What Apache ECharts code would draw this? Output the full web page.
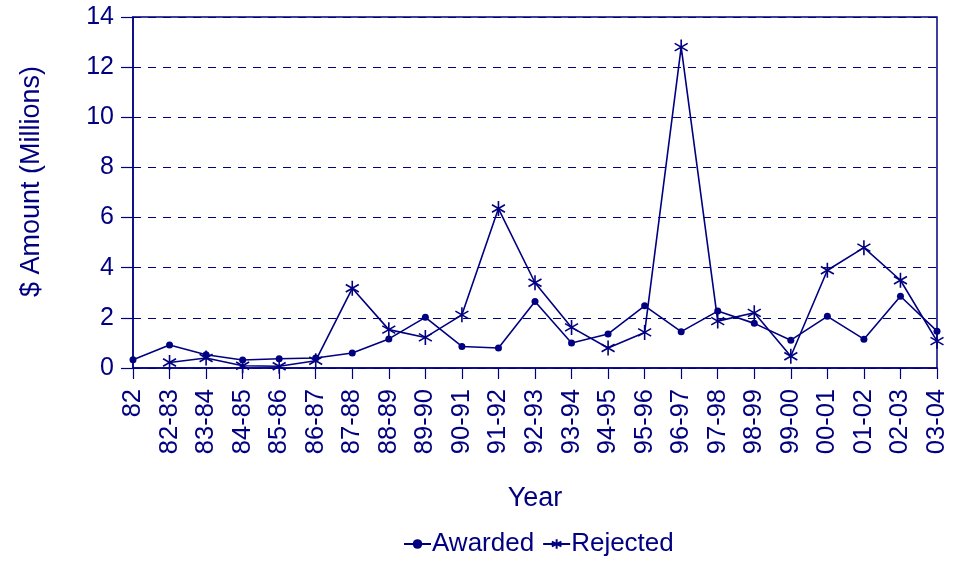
<!DOCTYPE html>
<html>
<head>
<meta charset="utf-8">
<script src="https://cdn.jsdelivr.net/npm/echarts@6/dist/echarts.min.js"></script>
<style>
html,body{margin:0;padding:0;background:#fff;}
#c{width:953px;height:561px;}
</style>
</head>
<body>
<div id="c"></div>
<script>
const years = ['82','82-83','83-84','84-85','85-86','86-87','87-88','88-89','89-90','90-91','91-92','92-93','93-94','94-95','95-96','96-97','97-98','98-99','99-00','00-01','01-02','02-03','03-04'];
const awarded = [0.33,0.92,0.53,0.32,0.37,0.40,0.60,1.16,2.02,0.86,0.80,2.65,1.00,1.36,2.48,1.45,2.27,1.78,1.11,2.06,1.15,2.86,1.47];
const rejected = [null,0.22,0.40,0.09,0.07,0.29,3.18,1.53,1.22,2.12,6.36,3.40,1.62,0.80,1.42,12.8,1.87,2.20,0.47,3.90,4.80,3.50,1.07];
const yTicks = {min:0, max:14, interval:2};

const NAVY = '#000080';
const FONT = '"Liberation Sans", Arial, sans-serif';
const STAR = 'path://M10,0L10,20M1.34,5L18.66,15M1.34,15L18.66,5';

const chart = echarts.init(document.getElementById('c'));
chart.setOption({
  animation: false,
  textStyle: {fontFamily: FONT, color: NAVY},
  grid: {left:133, right:16, top:17, bottom:193, show:true, borderColor:NAVY, borderWidth:1.5, backgroundColor:'transparent'},
  legend: {
    left: 398, top: 526,
    itemWidth: 27, itemHeight: 12, itemGap: 8,
    textStyle: {fontFamily: FONT, fontSize: 26, color: NAVY, padding:[0,0,0,-4]},
    data: ['Awarded','Rejected']
  },
  xAxis: {
    type: 'category', data: years, boundaryGap: false,
    name: 'Year', nameLocation: 'middle', nameGap: 117,
    nameTextStyle: {fontFamily: FONT, fontSize: 27, color: NAVY},
    axisLine: {lineStyle: {color: NAVY, width: 1.5}},
    axisTick: {show:true, alignWithLabel:true, length: 11, lineStyle:{color: NAVY, width:1.2}},
    axisLabel: {rotate: 90, margin: 21, fontFamily: FONT, fontSize: 25.5, color: NAVY, interval: 0},
    splitLine: {show:false}
  },
  yAxis: {
    type: 'value', min: yTicks.min, max: yTicks.max, interval: yTicks.interval,
    name: '$ Amount (Millions)', nameLocation: 'middle', nameGap: 88,
    nameTextStyle: {fontFamily: FONT, fontSize: 27, color: NAVY, padding: [0,0,0,22]},
    axisLine: {show:true, lineStyle: {color: NAVY, width: 1.5}},
    axisTick: {show:true, length: 12, lineStyle:{color: NAVY, width:1.2}},
    axisLabel: {margin: 19, fontFamily: FONT, fontSize: 25, color: NAVY},
    splitLine: {show:true, lineStyle: {color: NAVY, type: [8,7], width: 1.2}}
  },
  series: [
    {
      name: 'Awarded', type: 'line', data: awarded,
      symbol: 'circle', symbolSize: 7,
      lineStyle: {color: NAVY, width: 1.6},
      itemStyle: {color: NAVY},
      connectNulls: false
    },
    {
      name: 'Rejected', type: 'line', data: rejected,
      symbol: STAR, symbolSize: 15, symbolKeepAspect: true,
      lineStyle: {color: NAVY, width: 1.6},
      itemStyle: {color: 'none', borderColor: NAVY, borderWidth: 1.6}
    }
  ]
});
</script>
</body>
</html>
